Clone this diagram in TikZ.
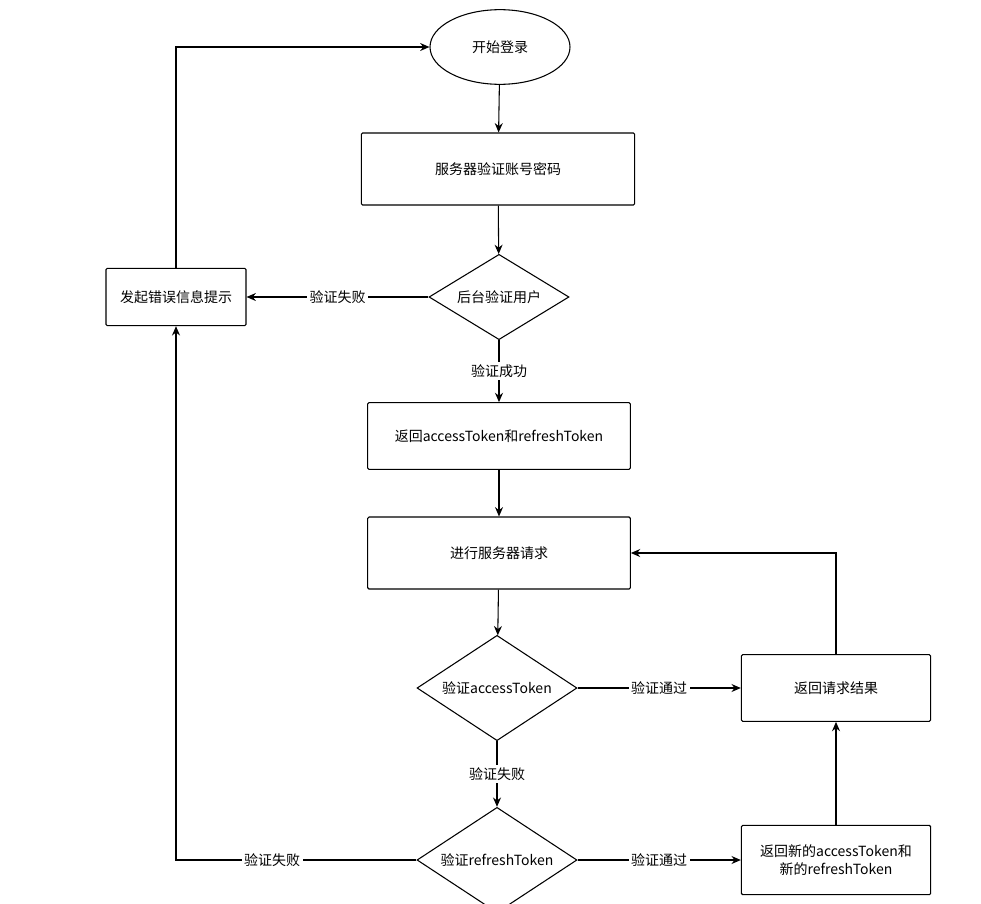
\documentclass[tikz,border=0pt]{standalone}
\usepackage{fontspec}
\setmainfont{Noto Sans CJK SC}
\usetikzlibrary{arrows.meta, shapes.geometric}

\tikzset{
    box/.style={draw, thick, rounded corners=1pt, align=center},
    choice/.style={draw, thick, diamond, aspect=1.5, inner sep=0pt},
    flow/.style={thick, -{Stealth[length=7pt, width=6pt]}},
    lbl/.style={fill=white, inner sep=2pt},
}

\begin{document}
\begin{tikzpicture}[x=0.75pt, y=-0.75pt, font=\fontsize{10.5}{13}\selectfont]
    \useasboundingbox (0,0) rectangle (981,903);

    \node[draw, thick, ellipse, minimum width=105pt, minimum height=56pt] (start) at (500,47) {开始登录};
    \node[box, minimum width=205pt, minimum height=54pt] (check) at (498,169) {服务器验证账号密码};
    \node[choice, minimum width=105pt, minimum height=64pt] (user) at (499,297) {后台验证用户};
    \node[box, minimum width=105pt, minimum height=43pt] (error) at (176,297) {发起错误信息提示};
    \node[box, minimum width=197pt, minimum height=50pt] (tokens) at (499,436) {返回accessToken和refreshToken};
    \node[box, minimum width=197pt, minimum height=54pt] (request) at (499,553) {进行服务器请求};
    \node[choice, minimum width=120pt, minimum height=79pt] (access) at (497,688) {验证accessToken};
    \node[box, minimum width=142pt, minimum height=50pt] (result) at (836,688) {返回请求结果};
    \node[choice, minimum width=120pt, minimum height=79pt] (refresh) at (497,860) {验证refreshToken};
    \node[box, minimum width=142pt, minimum height=52pt] (renew) at (836,860) {返回新的accessToken和\\新的refreshToken};

    \draw[flow] (start) -- (check);
    \draw[flow] (check) -- (user);
    \draw[flow] (user) -- node[lbl] {验证失败} (error);
    \draw[flow] (user) -- node[lbl] {验证成功} (tokens);
    \draw[flow] (error.north) |- (start.west);
    \draw[flow] (tokens) -- (request);
    \draw[flow] (request) -- (access);
    \draw[flow] (access) -- node[lbl] {验证通过} (result);
    \draw[flow] (result.north) |- (request.east);
    \draw[flow] (access) -- node[lbl] {验证失败} (refresh);
    \draw[flow] (refresh.west) -| node[lbl, pos=0.3] {验证失败} (error.south);
    \draw[flow] (refresh) -- node[lbl] {验证通过} (renew);
    \draw[flow] (renew) -- (result);
\end{tikzpicture}
\end{document}
